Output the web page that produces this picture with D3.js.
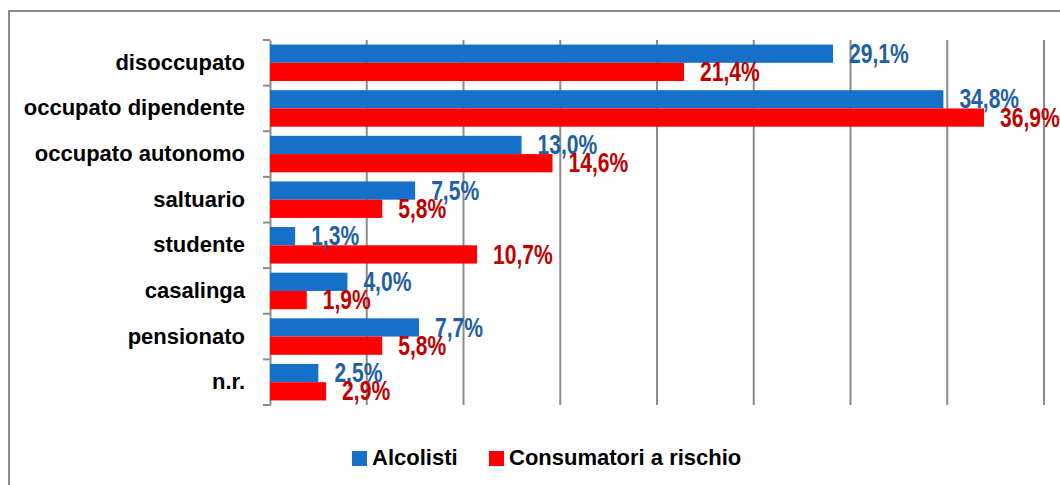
<!DOCTYPE html>
<html>
<head>
<meta charset="utf-8">
<script src="https://cdn.jsdelivr.net/npm/d3@7"></script>
<style>
  html, body { margin: 0; padding: 0; background: #fff; }
  svg { display: block; }
  text { font-family: "Liberation Sans", Arial, sans-serif; font-weight: bold; }
</style>
</head>
<body>
<div id="chart"></div>
<script>
// data
const categories = ['disoccupato', 'occupato dipendente', 'occupato autonomo', 'saltuario',
  'studente', 'casalinga', 'pensionato', 'n.r.'];
const seriesNames = ['Alcolisti', 'Consumatori a rischio'];
const alcolisti = [29.1, 34.8, 13.0, 7.5, 1.3, 4.0, 7.7, 2.5];
const consumatori = [21.4, 36.9, 14.6, 5.8, 10.7, 1.9, 5.8, 2.9];
const xTicks = [0, 5, 10, 15, 20, 25, 30, 35, 40];

const width = 1060, height = 485;
const margin = { top: 40, left: 270, right: 16, bottom: 80 };
const barColors = ['#1470C8', '#FF0000'];
const labelColors = ['#1F5FA5', '#C00000'];

// value labels use a narrow face in the original; squeeze the regular bold face
function condense(sel, f) {
  sel.each(function () {
    const w = this.getComputedTextLength();
    this.setAttribute('textLength', w * f);
    this.setAttribute('lengthAdjust', 'spacingAndGlyphs');
  });
}

const svg = d3.select('#chart').append('svg')
  .attr('width', width)
  .attr('height', height);

// outer frame (runs off right/bottom like the original)
svg.append('rect')
  .attr('x', 9).attr('y', 11)
  .attr('width', width + 10).attr('height', height + 10)
  .attr('fill', 'none')
  .attr('stroke', '#8c8c8c')
  .attr('stroke-width', 2);

const x = d3.scaleLinear().domain([0, 40]).range([margin.left, 1044]);
const y = d3.scaleBand().domain(categories)
  .range([margin.top, 405])
  .paddingInner(0.2).paddingOuter(0.1);
const ySub = d3.scaleBand().domain(seriesNames).range([0, y.bandwidth()]);

// gridlines
svg.append('g')
  .selectAll('line')
  .data(xTicks.slice(1))
  .join('line')
  .attr('x1', d => x(d)).attr('x2', d => x(d))
  .attr('y1', margin.top).attr('y2', 405)
  .attr('stroke', '#8c8c8c')
  .attr('stroke-width', 2);

// category axis
const yAxis = svg.append('g')
  .attr('transform', `translate(${margin.left},0)`)
  .call(d3.axisLeft(y).tickSize(0).tickPadding(25));
yAxis.select('.domain').attr('stroke', '#8c8c8c').attr('stroke-width', 2);
yAxis.selectAll('text')
  .attr('font-size', 22)
  .attr('fill', '#000')
  .attr('dy', '0.32em')
  .style('font-family', '"Liberation Sans", Arial, sans-serif')
  .style('font-weight', 'bold');

// tick marks between categories
const step = y.step();
const boundaries = categories.map(c => y(c) - y.paddingOuter() * step).concat([405]);
svg.append('g')
  .selectAll('line')
  .data(boundaries)
  .join('line')
  .attr('x1', margin.left - 7).attr('x2', margin.left)
  .attr('y1', d => d).attr('y2', d => d)
  .attr('stroke', '#8c8c8c')
  .attr('stroke-width', 2);

const rows = categories.map((c, i) => ({ cat: c, vals: [alcolisti[i], consumatori[i]] }));

// bars
const groups = svg.append('g')
  .selectAll('g')
  .data(rows)
  .join('g')
  .attr('transform', d => `translate(0,${y(d.cat)})`);

groups.selectAll('rect')
  .data(d => d.vals.map((v, k) => ({ v, k })))
  .join('rect')
  .attr('x', x(0))
  .attr('y', d => ySub(seriesNames[d.k]))
  .attr('width', d => x(d.v) - x(0))
  .attr('height', ySub.bandwidth())
  .attr('fill', d => barColors[d.k]);

// value labels
groups.selectAll('text')
  .data(d => d.vals.map((v, k) => ({ v, k })))
  .join('text')
  .attr('x', d => x(d.v) + 16)
  .attr('y', d => ySub(seriesNames[d.k]) + ySub.bandwidth() / 2 + 2)
  .attr('dominant-baseline', 'middle')
  .attr('font-size', 27)
  .attr('fill', d => labelColors[d.k])
  .text(d => d3.format('.1f')(d.v).replace('.', ',') + '%')
  .call(condense, 0.78);

// legend
const legendX = [352, 489];
const legend = svg.append('g')
  .selectAll('g')
  .data(seriesNames)
  .join('g')
  .attr('transform', (d, i) => `translate(${legendX[i]},451)`);
legend.append('rect')
  .attr('width', 15).attr('height', 15)
  .attr('fill', (d, i) => barColors[i]);
legend.append('text')
  .attr('x', 20).attr('y', 8)
  .attr('dominant-baseline', 'middle')
  .attr('font-size', 22)
  .attr('fill', '#000')
  .text(d => d);
</script>
</body>
</html>
